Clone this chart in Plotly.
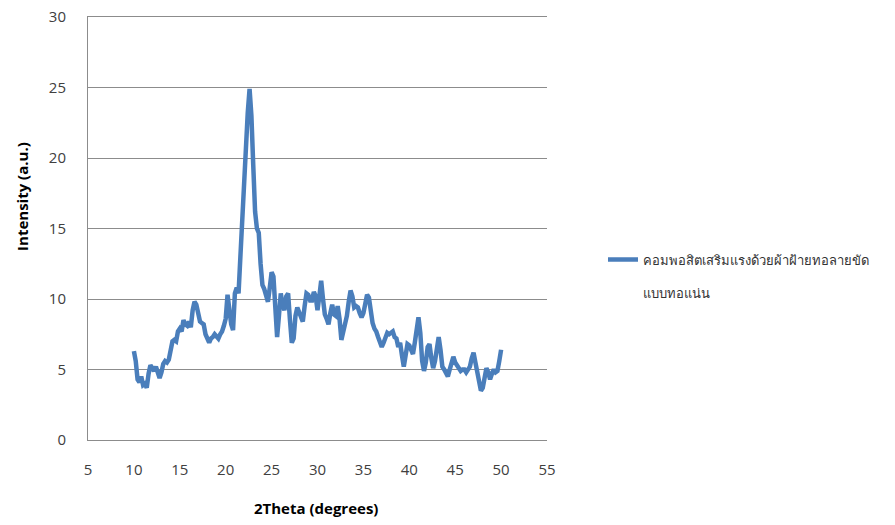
import plotly.graph_objects as go

# XRD scan of the woven-cotton composite (2theta step 0.2 deg)
two_theta = [
    10.0, 10.2, 10.4, 10.6, 10.8, 11.0, 11.2, 11.4, 11.6, 11.8,
    12.0, 12.2, 12.4, 12.6, 12.8, 13.0, 13.2, 13.4, 13.6, 13.8,
    14.0, 14.2, 14.4, 14.6, 14.8, 15.0, 15.2, 15.4, 15.6, 15.8,
    16.0, 16.2, 16.4, 16.6, 16.8, 17.0, 17.2, 17.4, 17.6, 17.8,
    18.0, 18.2, 18.4, 18.6, 18.8, 19.0, 19.2, 19.4, 19.6, 19.8,
    20.0, 20.2, 20.4, 20.6, 20.8, 21.0, 21.2, 21.4, 21.6, 21.8,
    22.0, 22.2, 22.4, 22.6, 22.8, 23.0, 23.2, 23.4, 23.6, 23.8,
    24.0, 24.2, 24.4, 24.6, 24.8, 25.0, 25.2, 25.4, 25.6, 25.8,
    26.0, 26.2, 26.4, 26.6, 26.8, 27.0, 27.2, 27.4, 27.6, 27.8,
    28.0, 28.2, 28.4, 28.6, 28.8, 29.0, 29.2, 29.4, 29.6, 29.8,
    30.0, 30.2, 30.4, 30.6, 30.8, 31.0, 31.2, 31.4, 31.6, 31.8,
    32.0, 32.2, 32.4, 32.6, 32.8, 33.0, 33.2, 33.4, 33.6, 33.8,
    34.0, 34.2, 34.4, 34.6, 34.8, 35.0, 35.2, 35.4, 35.6, 35.8,
    36.0, 36.2, 36.4, 36.6, 36.8, 37.0, 37.2, 37.4, 37.6, 37.8,
    38.0, 38.2, 38.4, 38.6, 38.8, 39.0, 39.2, 39.4, 39.6, 39.8,
    40.0, 40.2, 40.4, 40.6, 40.8, 41.0, 41.2, 41.4, 41.6, 41.8,
    42.0, 42.2, 42.4, 42.6, 42.8, 43.0, 43.2, 43.4, 43.6, 43.8,
    44.0, 44.2, 44.4, 44.6, 44.8, 45.0, 45.2, 45.4, 45.6, 45.8,
    46.0, 46.2, 46.4, 46.6, 46.8, 47.0, 47.2, 47.4, 47.6, 47.8,
    48.0, 48.2, 48.4, 48.6, 48.8, 49.0, 49.2, 49.4, 49.6, 49.8,
    50.0,
]

intensity = [
    6.3, 5.6, 4.3, 4.1, 4.5, 3.9, 4.0, 3.7, 4.7, 5.3,
    5.1, 4.9, 5.2, 4.7, 4.4, 4.8, 5.4, 5.6, 5.5, 5.7,
    6.6, 7.0, 7.1, 7.0, 7.7, 7.9, 7.7, 8.5, 8.2, 8.1,
    8.4, 8.0, 9.2, 9.8, 9.6, 9.0, 8.4, 8.3, 8.2, 7.5,
    7.1, 6.9, 7.2, 7.3, 7.5, 7.3, 7.2, 7.5, 7.7, 8.1,
    8.6, 10.3, 9.2, 8.2, 7.8, 10.4, 10.8, 10.4, 13.0, 16.0,
    18.5, 21.3, 23.2, 24.9, 23.0, 19.5, 16.2, 15.0, 14.7, 12.5,
    11.0, 10.7, 10.2, 9.8, 10.8, 11.9, 11.6, 9.8, 7.3, 8.8,
    10.4, 9.6, 9.2, 10.2, 10.4, 8.5, 6.9, 7.2, 8.8, 9.4,
    9.1, 8.6, 8.4, 9.5, 10.4, 10.3, 9.9, 9.9, 10.5, 10.2,
    9.2, 10.2, 11.3, 10.0, 8.9, 8.6, 8.2, 9.0, 9.6, 8.9,
    8.8, 9.5, 8.6, 7.1, 7.6, 8.4, 8.8, 9.8, 10.6, 10.2,
    9.4, 9.5, 9.4, 9.0, 8.7, 9.0, 9.6, 10.3, 10.1, 9.0,
    8.3, 7.9, 7.7, 7.3, 7.0, 6.6, 6.9, 7.3, 7.6, 7.5,
    7.6, 7.7, 7.3, 7.2, 6.6, 6.9, 6.0, 5.2, 6.0, 6.8,
    6.7, 6.3, 6.1, 6.9, 8.0, 8.7, 7.6, 5.6, 4.9, 5.5,
    6.6, 6.8, 5.8, 5.1, 5.6, 6.6, 7.3, 6.4, 5.2, 5.0,
    4.8, 4.5, 5.0, 5.6, 5.9, 5.5, 5.3, 5.1, 4.9, 5.0,
    5.0, 4.8, 5.0, 5.2, 5.8, 6.2, 5.5, 4.9, 4.3, 3.5,
    3.7, 4.7, 5.1, 4.8, 4.3, 4.7, 5.0, 4.8, 4.9, 5.6,
    6.4,
]

# Legend label wraps onto a second line with an empty spacer line between
series_name = "คอมพอสิตเสริมแรงด้วยผ้าฝ้ายทอลายขัด<br> <br>แบบทอแน่น"
x_ticks = [5, 10, 15, 20, 25, 30, 35, 40, 45, 50, 55]
y_ticks = [0, 5, 10, 15, 20, 25, 30]
x_title = "2Theta (degrees)"
y_title = "Intensity (a.u.)"

font_family = "Open Sans, DejaVu Sans, sans-serif"
grid_grey = "#8c8c8c"
tick_grey = "#404040"

fig = go.Figure(
    go.Scatter(
        x=two_theta,
        y=intensity,
        mode="lines",
        name=series_name,
        line=dict(color="#4a7ebb", width=4.5),
    )
)

fig.update_layout(
    width=895,
    height=525,
    margin=dict(l=88, r=348, t=17, b=85),
    paper_bgcolor="white",
    plot_bgcolor="white",
    font=dict(family=font_family, size=15, color=tick_grey),
    showlegend=True,
    legend=dict(
        x=1.122,
        y=0.462,
        xanchor="left",
        yanchor="top",
        valign="top",
        font=dict(size=13, color="#333333"),
        bgcolor="rgba(0,0,0,0)",
    ),
    annotations=[
        dict(
            text="<b>%s</b>" % x_title,
            xref="paper", yref="paper",
            x=0.4967, y=-0.1608,
            xanchor="center", yanchor="middle",
            showarrow=False,
            font=dict(size=15, color="#000000"),
        ),
        dict(
            text="<b>%s</b>" % y_title,
            xref="paper", yref="paper",
            x=-0.1438, y=0.577,
            xanchor="center", yanchor="middle",
            textangle=-90,
            showarrow=False,
            font=dict(size=15, color="#000000"),
        ),
    ],
)

# Top and bottom frame lines double as the 30 and 0 gridlines
fig.update_xaxes(
    range=[5, 55],
    tickvals=x_ticks,
    showgrid=False,
    zeroline=False,
    showline=True,
    mirror=True,
    linecolor=grid_grey,
    linewidth=1,
    ticks="",
    automargin=False,
    ticklabelstandoff=16,
    tickfont=dict(size=15, color=tick_grey),
)

fig.update_yaxes(
    range=[0, 30],
    tickvals=y_ticks,
    showgrid=True,
    gridcolor=grid_grey,
    gridwidth=1,
    zeroline=False,
    showline=True,
    linecolor=grid_grey,
    linewidth=1,
    ticks="",
    automargin=False,
    ticklabelstandoff=18,
    tickfont=dict(size=15, color=tick_grey),
)

fig.write_html("out.html")
